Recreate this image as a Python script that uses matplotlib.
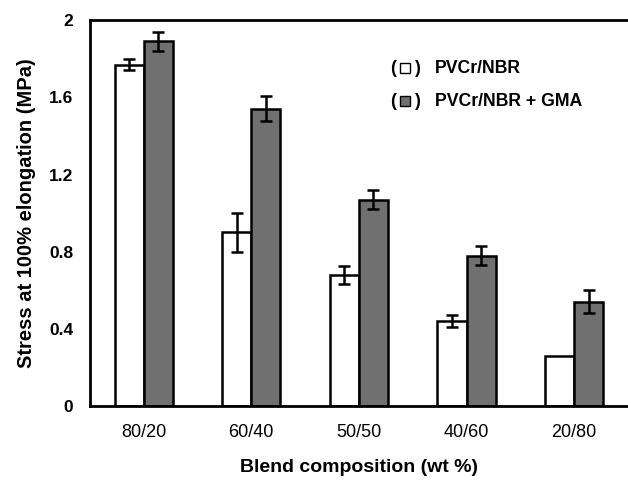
import numpy as np
import matplotlib
matplotlib.use('Agg')
from matplotlib import pyplot as plt

blends = ['80/20', '60/40', '50/50', '40/60', '20/80']
pvc_nbr = [1.77, 0.90, 0.68, 0.44, 0.26]
pvc_nbr_err = [0.03, 0.10, 0.047, 0.03, 0.0]
pvc_nbr_gma = [1.89, 1.54, 1.07, 0.78, 0.54]
pvc_nbr_gma_err = [0.05, 0.065, 0.05, 0.05, 0.06]
yticks = [0, 0.4, 0.8, 1.2, 1.6, 2]
ytick_labels = ['0', '0.4', '0.8', '1.2', '1.6', '2']

plt.rcParams['font.family'] = ['Liberation Sans', 'DejaVu Sans']

fig = plt.figure(figsize=(6.28, 4.8), dpi=100)
ax = fig.add_axes([0.143, 0.154, 0.857, 0.804])

x = np.arange(len(blends))
w = 0.27
err_kw = dict(ecolor='black', elinewidth=1.8, capsize=4.5, capthick=1.8)
ax.bar(x - w / 2, pvc_nbr, w, color='white', edgecolor='black', linewidth=1.8,
       yerr=[v if v > 0 else np.nan for v in pvc_nbr_err], error_kw=err_kw)
ax.bar(x + w / 2, pvc_nbr_gma, w, color='#707070', edgecolor='black', linewidth=1.8,
       yerr=pvc_nbr_gma_err, error_kw=err_kw)

ax.set_xlim(-0.5, 4.5)
ax.set_ylim(0, 2)
ax.set_yticks(yticks)
ax.set_yticklabels(ytick_labels, fontweight='bold', fontsize=12.5)
ax.set_xticks(x)
ax.set_xticklabels(blends, fontsize=13)
ax.tick_params(length=0, pad=12)
ax.tick_params(axis='x', pad=13)

for s in ['left', 'bottom', 'top']:
    ax.spines[s].set_linewidth(2)
ax.spines['right'].set_visible(False)

ax.set_ylabel('Stress at 100% elongation (MPa)', fontweight='bold', fontsize=14.5, labelpad=9)
ax.set_xlabel('Blend composition (wt %)', fontweight='bold', fontsize=14, labelpad=13)

# legend drawn by hand: "(marker) label"
for yy, col, lab in [(0.875, 'white', 'PVCr/NBR'), (0.79, '#707070', 'PVCr/NBR + GMA')]:
    ax.text(0.558, yy, '(', transform=ax.transAxes, fontsize=13, fontweight='bold',
            va='center', ha='left')
    ax.text(0.602, yy, ')', transform=ax.transAxes, fontsize=13, fontweight='bold',
            va='center', ha='left')
    ax.plot([0.586], [yy], marker='s', markersize=7, markerfacecolor=col,
            markeredgecolor='black', markeredgewidth=1, transform=ax.transAxes,
            clip_on=False)
    ax.text(0.641, yy, lab, transform=ax.transAxes, fontsize=12.7, fontweight='bold',
            va='center', ha='left')

fig.savefig('out.png', dpi=100)
